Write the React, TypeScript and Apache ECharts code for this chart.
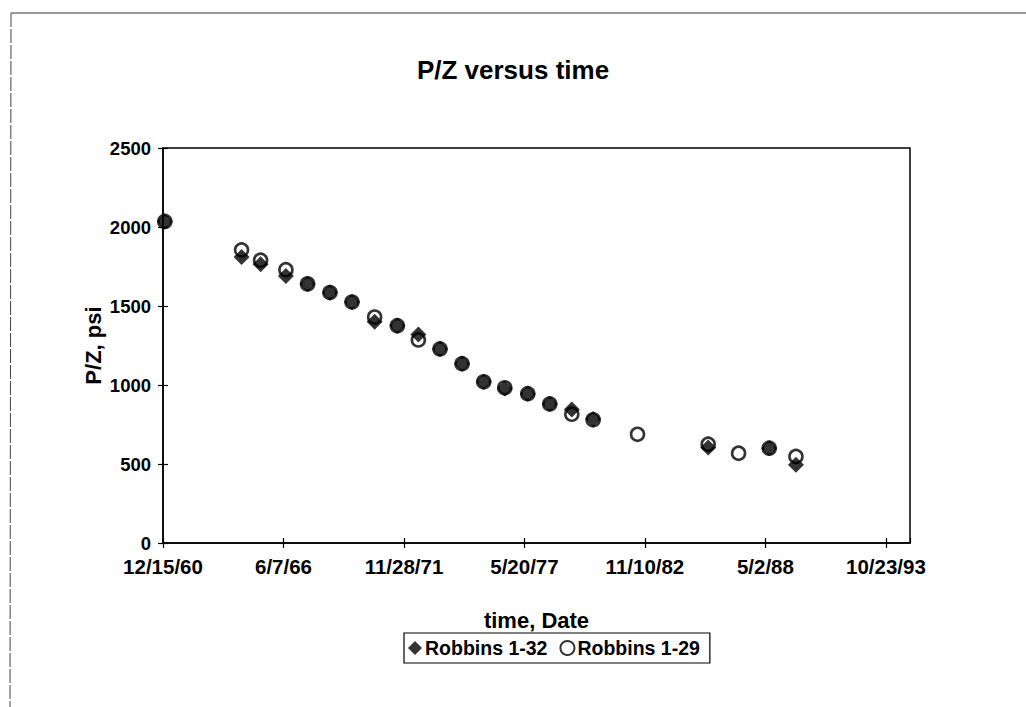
import React, { useEffect, useRef } from "react";
import * as echarts from "echarts";

// Days elapsed since 12/15/1960 (the axis origin) and P/Z values, psi
const robbins132Days = [30, 1304, 1620, 2040, 2400, 2771, 3137, 3513, 3890, 4239, 4598, 4964, 5324, 5673, 6055, 6420, 6786, 7140, 9050, 10063, 10507];
const robbins132PZ = [2035, 1810, 1765, 1690, 1640, 1585, 1525, 1400, 1375, 1320, 1228, 1135, 1020, 978, 945, 880, 845, 785, 605, 600, 495];

const robbins129Days = [30, 1304, 1620, 2040, 2400, 2771, 3137, 3513, 3890, 4239, 4598, 4964, 5324, 5673, 6055, 6420, 6786, 7140, 7877, 9050, 9555, 10063, 10507];
const robbins129PZ = [2035, 1855, 1790, 1730, 1640, 1585, 1525, 1430, 1375, 1285, 1228, 1135, 1020, 982, 945, 880, 815, 780, 688, 625, 568, 600, 548];

const seriesNames = ["Robbins 1-32", "Robbins 1-29"];
const chartTitle = "P/Z versus time";
const xTitle = "time, Date";
const yTitle = "P/Z, psi";
const originUTC = Date.UTC(1960, 11, 15);
const xMax = 12400;
const xInterval = 2000;
const yMax = 2500;
const yInterval = 500;

const FONT = "Arial, 'Liberation Sans', sans-serif";

function fmtDate(v: number): string {
  if (Math.abs(v % xInterval) > 1e-6) return "";
  const d = new Date(originUTC + v * 86400000);
  const yy = String(d.getUTCFullYear() % 100).padStart(2, "0");
  return `${d.getUTCMonth() + 1}/${d.getUTCDate()}/${yy}`;
}

export default function App() {
  const ref = useRef<HTMLDivElement>(null);
  useEffect(() => {
    document.body.style.margin = "0";
    const chart = echarts.init(ref.current!, null, { renderer: "svg" });
    const d132 = robbins132Days.map((d, i) => [d, robbins132PZ[i]]);
    const d129 = robbins129Days.map((d, i) => [d, robbins129PZ[i]]);
    const labelStyle = { color: "#000", fontFamily: FONT, fontWeight: "bold" as const, fontSize: 18.5 };
    const titleStyle = { color: "#000", fontFamily: FONT, fontWeight: "bold" as const, fontSize: 22 };
    chart.setOption({
      animation: false,
      backgroundColor: "#fff",
      title: {
        text: chartTitle,
        left: "center",
        top: 52,
        textStyle: { color: "#000", fontFamily: FONT, fontWeight: "bold", fontSize: 26 },
      },
      grid: {
        left: 163,
        right: 116,
        top: 148,
        bottom: 164,
        show: true,
        borderColor: "#000",
        borderWidth: 1.5,
        backgroundColor: "transparent",
      },
      legend: {
        data: [
          { name: seriesNames[0], icon: "diamond" },
          { name: seriesNames[1], icon: "circle" },
        ],
        left: 404,
        top: 633,
        orient: "horizontal",
        itemWidth: 14,
        itemHeight: 14,
        itemGap: 12,
        padding: [5, 10, 5, 4],
        borderColor: "#000",
        borderWidth: 1.2,
        textStyle: { color: "#000", fontFamily: FONT, fontWeight: "bold", fontSize: 19.5, padding: [0, 0, 0, -2] },
      },
      xAxis: [
        {
          type: "value",
          min: 0,
          max: xMax,
          interval: xInterval,
          name: xTitle,
          nameLocation: "middle",
          nameGap: 66,
          nameTextStyle: titleStyle,
          axisLine: { show: true, onZero: false, lineStyle: { color: "#000", width: 1.5 } },
          axisTick: { show: true, inside: false, length: 5, lineStyle: { color: "#000", width: 1.2 } },
          axisLabel: { ...labelStyle, fontSize: 20.5, margin: 13, showMaxLabel: false, formatter: (v: number) => fmtDate(v) },
          splitLine: { show: false },
        },
        {
          type: "value",
          min: 0,
          max: xMax,
          interval: xInterval,
          position: "bottom",
          offset: 0,
          axisLine: { show: false },
          axisTick: { show: true, inside: true, length: 5, lineStyle: { color: "#000", width: 1.2 } },
          axisLabel: { show: false },
          splitLine: { show: false },
        },
      ],
      yAxis: [
        {
          type: "value",
          min: 0,
          max: yMax,
          interval: yInterval,
          name: yTitle,
          nameLocation: "middle",
          nameGap: 59,
          nameMoveOverlap: false,
          nameRotate: 90,
          nameTextStyle: titleStyle,
          axisLine: { show: true, onZero: false, lineStyle: { color: "#000", width: 1.5 } },
          axisTick: { show: true, inside: false, length: 5, lineStyle: { color: "#000", width: 1.2 } },
          axisLabel: { ...labelStyle, margin: 12, formatter: (v: number) => String(v) },
          splitLine: { show: false },
        },
        {
          type: "value",
          min: 0,
          max: yMax,
          interval: yInterval,
          position: "left",
          offset: 0,
          axisLine: { show: false },
          axisTick: { show: true, inside: true, length: 5, lineStyle: { color: "#000", width: 1.2 } },
          axisLabel: { show: false },
          splitLine: { show: false },
        },
      ],
      graphic: [
        { type: "line", shape: { x1: 11, y1: 13, x2: 1026, y2: 13 }, style: { stroke: "#333", lineWidth: 1.2 } },
        { type: "line", shape: { x1: 11, y1: 13, x2: 10, y2: 707 }, style: { stroke: "#444", lineWidth: 1, lineDash: [14, 2] } },
      ],
      series: [
        {
          name: seriesNames[0],
          type: "scatter",
          xAxisIndex: 0,
          yAxisIndex: 0,
          symbol: "diamond",
          symbolSize: 16,
          itemStyle: { color: "#000" },
          data: d132,
        },
        {
          name: seriesNames[1],
          type: "scatter",
          xAxisIndex: 0,
          yAxisIndex: 0,
          symbol: "circle",
          symbolSize: 13,
          itemStyle: { color: "rgba(0,0,0,0)", borderColor: "#000", borderWidth: 2.6 },
          data: d129,
        },
      ],
    });
    return () => chart.dispose();
  }, []);
  return <div ref={ref} style={{ width: 1026, height: 707, background: "#fff" }} />;
}
